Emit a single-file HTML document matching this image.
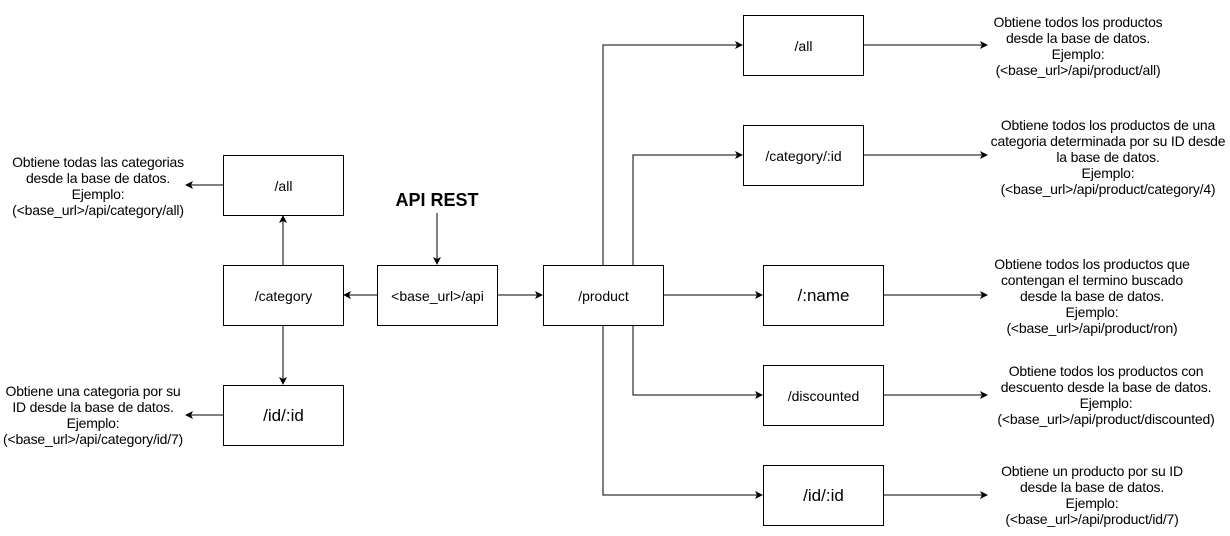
<!DOCTYPE html>
<html><head><meta charset="utf-8"><style>
body{margin:0;background:#fff;width:1230px;height:536px;overflow:hidden;position:relative;font-family:"Liberation Sans",Arial,sans-serif;}
.b{position:absolute;border:1px solid #000;box-sizing:border-box;display:flex;align-items:center;justify-content:center;font-size:14px;background:#fff;}
.t{position:absolute;font-size:14px;line-height:16px;text-align:center;white-space:nowrap;transform:translate(-50%,-50%);letter-spacing:-0.2px;}
</style></head><body>
<svg width="1230" height="536" style="position:absolute;left:0;top:0">
<defs><marker id="a" markerWidth="8" markerHeight="8" refX="7" refY="4" orient="auto" markerUnits="userSpaceOnUse"><path d="M0,0 L8,4 L0,8 L2,4 z" fill="#000"/></marker></defs>
<g stroke="#000" stroke-width="1" fill="none" marker-end="url(#a)">
<path d="M437 213 V264"/>
<path d="M377 295 H344"/>
<path d="M283 265 V216"/>
<path d="M283 325 V384"/>
<path d="M223 185 H186"/>
<path d="M223 415 H186"/>
<path d="M497 295 H542"/>
<path d="M603 265 V45 H742"/>
<path d="M633 265 V155 H742"/>
<path d="M663 295 H762"/>
<path d="M633 325 V395 H762"/>
<path d="M603 325 V495 H762"/>
<path d="M863 45 H987"/>
<path d="M863 155 H987"/>
<path d="M883 295 H987"/>
<path d="M883 395 H987"/>
<path d="M883 495 H987"/>
</g></svg>
<div class="b" style="left:223px;top:155px;width:121px;height:61px">/all</div>
<div class="b" style="left:223px;top:265px;width:121px;height:61px">/category</div>
<div class="b" style="left:223px;top:385px;width:121px;height:61px;font-size:17px">/id/:id</div>
<div class="b" style="left:377px;top:265px;width:121px;height:61px">&lt;base_url&gt;/api</div>
<div class="b" style="left:543px;top:265px;width:121px;height:61px">/product</div>
<div class="b" style="left:743px;top:15px;width:121px;height:61px">/all</div>
<div class="b" style="left:743px;top:125px;width:121px;height:61px">/category/:id</div>
<div class="b" style="left:763px;top:265px;width:121px;height:61px;font-size:17px">/:name</div>
<div class="b" style="left:763px;top:365px;width:121px;height:61px">/discounted</div>
<div class="b" style="left:763px;top:465px;width:121px;height:61px;font-size:17px">/id/:id</div>
<div class="t" style="left:437px;top:200px;font-size:18px;font-weight:bold;letter-spacing:0">API REST</div>
<div class="t" style="left:98px;top:186px">Obtiene todas las categorias<br>desde la base de datos.<br>Ejemplo:<br>(&lt;base_url&gt;/api/category/all)</div>
<div class="t" style="left:93px;top:415px">Obtiene una categoria por su<br>ID desde la base de datos.<br>Ejemplo:<br>(&lt;base_url&gt;/api/category/id/7)</div>
<div class="t" style="left:1078px;top:46px">Obtiene todos los productos<br>desde la base de datos.<br>Ejemplo:<br>(&lt;base_url&gt;/api/product/all)</div>
<div class="t" style="left:1108px;top:157px">Obtiene todos los productos de una<br>categoria determinada por su ID desde<br>la base de datos.<br>Ejemplo:<br>(&lt;base_url&gt;/api/product/category/4)</div>
<div class="t" style="left:1092px;top:296px">Obtiene todos los productos que<br>contengan el termino buscado<br>desde la base de datos.<br>Ejemplo:<br>(&lt;base_url&gt;/api/product/ron)</div>
<div class="t" style="left:1106px;top:395px">Obtiene todos los productos con<br>descuento desde la base de datos.<br>Ejemplo:<br>(&lt;base_url&gt;/api/product/discounted)</div>
<div class="t" style="left:1092px;top:495px">Obtiene un producto por su ID<br>desde la base de datos.<br>Ejemplo:<br>(&lt;base_url&gt;/api/product/id/7)</div>
</body></html>
